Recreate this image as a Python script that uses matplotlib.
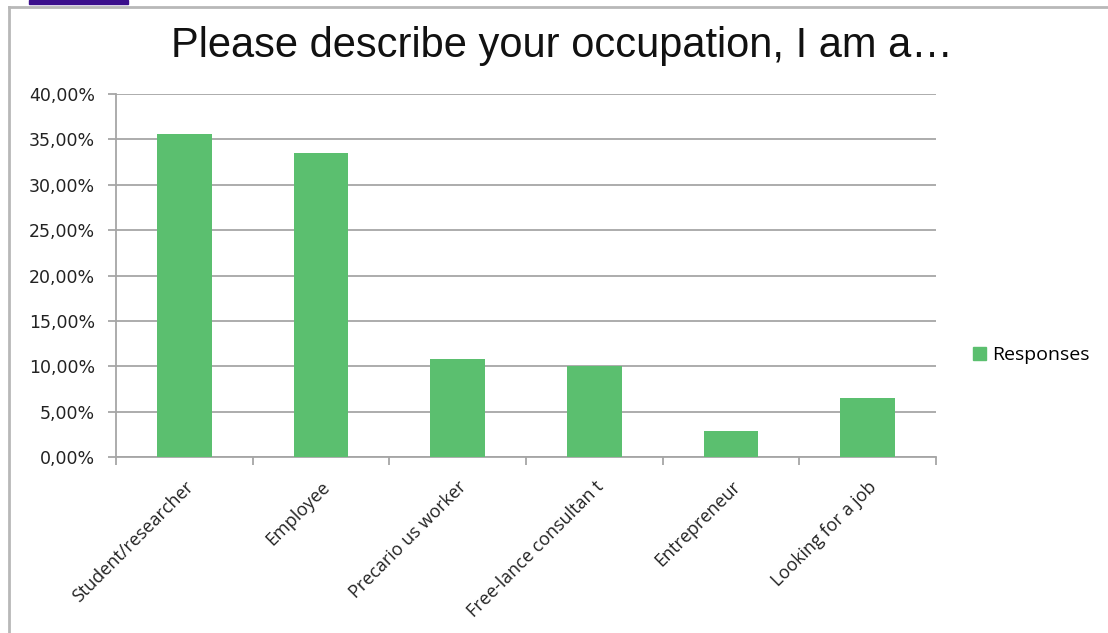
import numpy as np
import matplotlib.pyplot as plt
import matplotlib.patches as mpatches
from matplotlib.ticker import FuncFormatter, FixedLocator

categories = ["Student/researcher", "Employee", "Precario us worker",
              "Free-lance consultan t", "Entrepreneur", "Looking for a job"]
responses = [35.6, 33.5, 10.8, 10.0, 2.9, 6.5]
y_ticks = [0, 5, 10, 15, 20, 25, 30, 35, 40]

BAR = "#5bbf6f"
GRID = "#a6a6a6"
TXT = "#222222"

fig = plt.figure(figsize=(11.08, 6.33), dpi=100)
ax = fig.add_axes([0.1047, 0.278, 0.7401, 0.5735])

x = np.arange(len(categories))
ax.bar(x, responses, width=0.4, color=BAR, zorder=3, label="Responses")

ax.set_xlim(-0.5, len(categories) - 0.5)
ax.set_ylim(0, 40)
ax.set_yticks(y_ticks)
ax.yaxis.set_major_formatter(FuncFormatter(lambda v, _: f"{v:.2f}%".replace(".", ",")))
ax.grid(axis="y", color=GRID, lw=1.3, zorder=0)

for s in ["top", "right"]:
    ax.spines[s].set_visible(False)
for s in ["left", "bottom"]:
    ax.spines[s].set_color(GRID)
    ax.spines[s].set_linewidth(1.3)

ax.tick_params(axis="y", length=6, color=GRID, width=1.3, labelsize=12.5,
               labelcolor=TXT, pad=9)
for t in ax.get_yticklabels():
    t.set_family("DejaVu Sans")

ax.set_xticks(x)
ax.set_xticklabels(categories, rotation=45, ha="right", rotation_mode="anchor",
                   fontsize=13, family="Open Sans", color=TXT)
ax.tick_params(axis="x", which="major", length=0, pad=15)
ax.xaxis.set_minor_locator(FixedLocator(np.arange(-0.5, len(categories), 1.0)))
ax.tick_params(axis="x", which="minor", length=6, color=GRID, width=1.3)

fig.text(0.507, 0.928, "Please describe your occupation, I am a…",
         ha="center", va="center", fontsize=30, family="Liberation Sans",
         color="#111111")

handle = mpatches.Patch(color=BAR, label="Responses")
fig.legend(handles=[handle], loc="center left", bbox_to_anchor=(0.862, 0.439),
           frameon=False, prop={"family": "Open Sans", "size": 14},
           handlelength=0.7, handleheight=0.7, handletextpad=0.3)

# chart frame and the small tab at top-left
fig.add_artist(plt.Line2D([9 / 1108, 9 / 1108], [0, 1 - 7 / 633],
                          transform=fig.transFigure, color="#b8b8b8", lw=2))
fig.add_artist(plt.Line2D([9 / 1108, 1], [1 - 7 / 633, 1 - 7 / 633],
                          transform=fig.transFigure, color="#b8b8b8", lw=2))
fig.add_artist(mpatches.Rectangle((29 / 1108, 1 - 4 / 633), 99 / 1108, 4 / 633,
                                  transform=fig.transFigure, color="#3b0f8c"))

fig.savefig("out.png", dpi=100)
